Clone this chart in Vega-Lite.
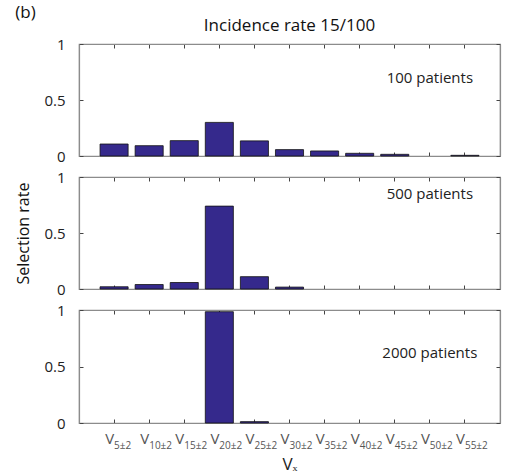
{
  "$schema": "https://vega.github.io/schema/vega-lite/v6.json",
  "padding": {"left": 15, "top": 4, "right": 5, "bottom": 2},
  "title": {"text": "(b)", "anchor": "start", "fontSize": 17, "font": "Open Sans", "fontWeight": "normal", "color": "#111", "dx": 0, "offset": -6},
  "datasets": {
    "bars": [
      {"panel": "100 patients", "v": "V5±2", "rate": 0.107},
      {"panel": "100 patients", "v": "V10±2", "rate": 0.092},
      {"panel": "100 patients", "v": "V15±2", "rate": 0.137},
      {"panel": "100 patients", "v": "V20±2", "rate": 0.30},
      {"panel": "100 patients", "v": "V25±2", "rate": 0.135},
      {"panel": "100 patients", "v": "V30±2", "rate": 0.057},
      {"panel": "100 patients", "v": "V35±2", "rate": 0.045},
      {"panel": "100 patients", "v": "V40±2", "rate": 0.024},
      {"panel": "100 patients", "v": "V45±2", "rate": 0.015},
      {"panel": "100 patients", "v": "V55±2", "rate": 0.006},
      {"panel": "500 patients", "v": "V5±2", "rate": 0.02},
      {"panel": "500 patients", "v": "V10±2", "rate": 0.04},
      {"panel": "500 patients", "v": "V15±2", "rate": 0.058},
      {"panel": "500 patients", "v": "V20±2", "rate": 0.74},
      {"panel": "500 patients", "v": "V25±2", "rate": 0.11},
      {"panel": "500 patients", "v": "V30±2", "rate": 0.017},
      {"panel": "2000 patients", "v": "V20±2", "rate": 0.985},
      {"panel": "2000 patients", "v": "V25±2", "rate": 0.012}
    ],
    "notes": [
      {"panel": "100 patients", "v": "V50±2", "y": 0.7},
      {"panel": "500 patients", "v": "V50±2", "y": 0.85},
      {"panel": "2000 patients", "v": "V50±2", "y": 0.62}
    ]
  },
  "config": {
    "font": "Open Sans",
    "view": {"stroke": "#8c8c8c", "strokeWidth": 1.2},
    "axis": {"domainColor": "#8c8c8c", "domainWidth": 1.2, "tickColor": "#444", "grid": false, "labelFont": "Open Sans", "titleFont": "Open Sans", "titleFontWeight": "normal"},
    "title": {"font": "Open Sans", "fontWeight": "normal"}
  },
  "spacing": 4,
  "vconcat": [
    {
      "width": 421, "height": 112,
      "title": {"text": "Incidence rate 15/100", "fontSize": 17, "color": "#111", "offset": 2},
      "data": {"name": "bars"},
      "transform": [{"filter": "datum.panel === '100 patients'"}],
      "layer": [
        {
          "mark": {"type": "bar", "color": "#35298c", "stroke": "#111", "strokeWidth": 0.8},
          "encoding": {
            "x": {"field": "v", "type": "nominal", "scale": {"domain": ["V5±2","V10±2","V15±2","V20±2","V25±2","V30±2","V35±2","V40±2","V45±2","V50±2","V55±2"], "paddingInner": 0.2, "paddingOuter": 0.6},
                  "axis": {"orient": "bottom", "labels": false, "tickSize": -4, "title": null}},
            "y": {"field": "rate", "type": "quantitative", "scale": {"domain": [0, 1], "nice": false},
                  "axis": {"orient": "left", "values": [0, 0.5, 1], "format": "~g", "labelFontSize": 15, "labelColor": "#222", "tickSize": -4, "labelPadding": 18, "title": null}}
          }
        },
        {
          "mark": {"type": "bar", "opacity": 0},
          "encoding": {
            "x": {"field": "v", "type": "nominal", "axis": {"orient": "top", "labels": false, "tickSize": -4, "title": null}},
            "y": {"field": "rate", "type": "quantitative", "axis": {"orient": "right", "labels": false, "values": [0, 0.5, 1], "tickSize": -4, "title": null}}
          }
        },
        {
          "data": {"name": "notes"},
          "transform": [{"filter": "datum.panel === '100 patients'"}],
          "mark": {"type": "text", "fontSize": 15, "color": "#222", "font": "Open Sans"},
          "encoding": {
            "x": {"field": "v", "type": "nominal", "axis": null},
            "y": {"field": "y", "type": "quantitative", "axis": null},
            "text": {"field": "panel"}
          }
        }
      ],
      "resolve": {"axis": {"x": "independent", "y": "independent"}}
    },
    {
      "width": 421, "height": 112,
      "data": {"name": "bars"},
      "transform": [{"filter": "datum.panel === '500 patients'"}],
      "layer": [
        {
          "mark": {"type": "bar", "color": "#35298c", "stroke": "#111", "strokeWidth": 0.8},
          "encoding": {
            "x": {"field": "v", "type": "nominal", "scale": {"domain": ["V5±2","V10±2","V15±2","V20±2","V25±2","V30±2","V35±2","V40±2","V45±2","V50±2","V55±2"], "paddingInner": 0.2, "paddingOuter": 0.6},
                  "axis": {"orient": "bottom", "labels": false, "tickSize": -4, "title": null}},
            "y": {"field": "rate", "type": "quantitative", "scale": {"domain": [0, 1], "nice": false},
                  "axis": {"orient": "left", "values": [0, 0.5, 1], "format": "~g", "labelFontSize": 15, "labelColor": "#222", "tickSize": -4, "labelPadding": 18, "title": "Selection rate", "titleFontSize": 16, "titleColor": "#111", "titlePadding": 12}}
          }
        },
        {
          "mark": {"type": "bar", "opacity": 0},
          "encoding": {
            "x": {"field": "v", "type": "nominal", "axis": {"orient": "top", "labels": false, "tickSize": -4, "title": null}},
            "y": {"field": "rate", "type": "quantitative", "axis": {"orient": "right", "labels": false, "values": [0, 0.5, 1], "tickSize": -4, "title": null}}
          }
        },
        {
          "data": {"name": "notes"},
          "transform": [{"filter": "datum.panel === '500 patients'"}],
          "mark": {"type": "text", "fontSize": 15, "color": "#222", "font": "Open Sans"},
          "encoding": {
            "x": {"field": "v", "type": "nominal", "axis": null},
            "y": {"field": "y", "type": "quantitative", "axis": null},
            "text": {"field": "panel"}
          }
        }
      ],
      "resolve": {"axis": {"x": "independent", "y": "independent"}}
    },
    {
      "width": 421, "height": 113,
      "data": {"name": "bars"},
      "transform": [{"filter": "datum.panel === '2000 patients'"}],
      "layer": [
        {
          "mark": {"type": "bar", "color": "#35298c", "stroke": "#111", "strokeWidth": 0.8},
          "encoding": {
            "x": {"field": "v", "type": "nominal", "scale": {"domain": ["V5±2","V10±2","V15±2","V20±2","V25±2","V30±2","V35±2","V40±2","V45±2","V50±2","V55±2"], "paddingInner": 0.2, "paddingOuter": 0.6},
                  "axis": {"orient": "bottom", "labelExpr": "'V'", "labelAngle": 0, "labelAlign": "right", "labelDx": -8, "labelFontSize": 15, "labelColor": "#555", "tickSize": -4, "labelPadding": 12, "title": null}},
            "y": {"field": "rate", "type": "quantitative", "scale": {"domain": [0, 1], "nice": false},
                  "axis": {"orient": "left", "values": [0, 0.5, 1], "format": "~g", "labelFontSize": 15, "labelColor": "#222", "tickSize": -4, "labelPadding": 18, "title": null}}
          }
        },
        {
          "mark": {"type": "bar", "opacity": 0},
          "encoding": {
            "x": {"field": "v", "type": "nominal", "axis": {"orient": "top", "labels": false, "tickSize": -4, "title": null}},
            "y": {"field": "rate", "type": "quantitative", "axis": {"orient": "right", "labels": false, "values": [0, 0.5, 1], "tickSize": -4, "title": null}}
          }
        },
        {
          "data": {"name": "notes"},
          "transform": [{"filter": "datum.panel === '2000 patients'"}],
          "mark": {"type": "text", "fontSize": 15, "color": "#222", "font": "Open Sans"},
          "encoding": {
            "x": {"field": "v", "type": "nominal",
                  "axis": {"orient": "bottom", "labelExpr": "replace(datum.value, 'V', '')", "labelAngle": 0, "labelAlign": "left", "labelDx": -8, "labelFontSize": 10, "labelColor": "#555", "ticks": false, "domain": false, "labelPadding": 17, "title": "Vₓ", "titleFontSize": 17, "titleColor": "#222", "titlePadding": 6}},
            "y": {"field": "y", "type": "quantitative", "axis": null},
            "text": {"field": "panel"}
          }
        }
      ],
      "resolve": {"axis": {"x": "independent", "y": "independent"}}
    }
  ]
}
